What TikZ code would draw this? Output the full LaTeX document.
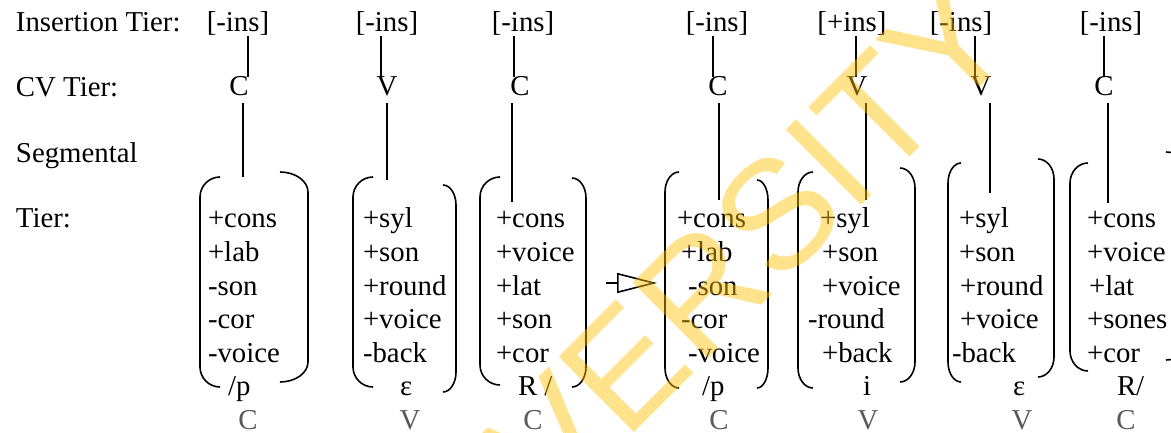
\documentclass[tikz,border=0pt]{standalone}
\usepackage{fontspec}
\setmainfont{Liberation Serif}
\newfontfamily\wmfont{Liberation Sans}
\usetikzlibrary{arrows.meta}
\definecolor{lblgray}{RGB}{89,89,89}
\definecolor{wmyellow}{RGB}{255,192,0}
\tikzset{
  txt/.style={inner sep=0pt, outer sep=0pt, font=\fontsize{28.8}{33}\selectfont, anchor=base west},
  ctxt/.style={txt, anchor=base},
  cvlbl/.style={ctxt, text=lblgray},
  link/.style={line width=1.6pt},
  brk/.style={line width=1.6pt},
}
% left bracket: x, hook x, top, bottom
\newcommand\mylbrk[4]{%
  \draw[brk] (#2,#3) .. controls ({#2-0.55*(#2-#1)},#3) and (#1,{#3+9}) .. (#1,{#3+20})
    -- (#1,{#4-20}) .. controls (#1,{#4-9}) and ({#2-0.55*(#2-#1)},#4) .. (#2,#4);}
\newcommand\myrbrk[4]{%
  \draw[brk] (#2,#3) .. controls ({#2+0.55*(#1-#2)},#3) and (#1,{#3+9}) .. (#1,{#3+20})
    -- (#1,{#4-20}) .. controls (#1,{#4-9}) and ({#2+0.55*(#1-#2)},#4) .. (#2,#4);}
\newcommand\featnode[4]{\node[txt] (#1) at (#2,#3) {#4};}
\begin{document}
\begin{tikzpicture}[x=1pt,y=-1pt]
\useasboundingbox (0,0) rectangle (1171,433);
\clip (0,0) rectangle (1171,433);
\fill[white] (0,0) rectangle (1171,433);

% row labels
\node[txt] (lins) at (16,32) {Insertion Tier:};
\node[txt] (lcv) at (16,97) {CV Tier:};
\node[txt] (lseg) at (16,163) {Segmental};
\node[txt] (ltier) at (16,228) {Tier:};

% insertion tier
\node[ctxt] (ins1) at (238,32) {[-ins]};
\node[ctxt] (ins2) at (387,32) {[-ins]};
\node[ctxt] (ins3) at (523,32) {[-ins]};
\node[ctxt] (ins4) at (717,32) {[-ins]};
\node[ctxt] (ins5) at (852,32) {[+ins]};
\node[ctxt] (ins6) at (961,32) {[-ins]};
\node[ctxt] (ins7) at (1111,32) {[-ins]};

% CV tier
\node[ctxt] (cv1) at (239,96) {C};
\node[ctxt] (cv2) at (387,96) {V};
\node[ctxt] (cv3) at (520,96) {C};
\node[ctxt] (cv4) at (718,96) {C};
\node[ctxt] (cv5) at (857,96) {V};
\node[ctxt] (cv6) at (981,96) {V};
\node[ctxt] (cv7) at (1104,96) {C};

% association lines insertion -> CV
\foreach \i/\x in {1/248,2/381,3/514,4/713,5/856,6/975,7/1104}{
  \coordinate (a\i) at (\x,0);
  \draw[link] (a\i |- ins\i.south) -- (a\i |- cv\i.north);
}
% association lines CV -> segmental
\foreach \i/\x/\y in {1/243/177,2/387/180,3/512/202,4/719/200,5/866/200,6/990/193,7/1108/203}{
  \coordinate (b\i) at (\x,\y);
  \draw[link,shorten <=7pt] (b\i |- cv\i.south) -- (b\i);
}

% feature rows
\def\ra{228}\def\rb{261.6}\def\rc{295.2}\def\rd{328.8}\def\re{362.4}
% column 1
\featnode{f1a}{208}{\ra}{+cons}
\featnode{f1b}{208}{\rb}{+lab}
\featnode{f1c}{208}{\rc}{-son}
\featnode{f1d}{208}{\rd}{-cor}
\featnode{f1e}{208}{\re}{-voice}
% column 2
\featnode{f2a}{363}{\ra}{+syl}
\featnode{f2b}{363}{\rb}{+son}
\featnode{f2c}{363}{\rc}{+round}
\featnode{f2d}{363}{\rd}{+voice}
\featnode{f2e}{363}{\re}{-back}
% column 3
\featnode{f3a}{496}{\ra}{+cons}
\featnode{f3b}{496}{\rb}{+voice}
\featnode{f3c}{496}{\rc}{+lat}
\featnode{f3d}{496}{\rd}{+son}
\featnode{f3e}{496}{\re}{+cor}
% column 4
\featnode{f4a}{677}{\ra}{+cons}
\featnode{f4b}{681}{\rb}{+lab}
\featnode{f4c}{688}{\rc}{-son}
\featnode{f4d}{681}{\rd}{-cor}
\featnode{f4e}{688}{\re}{-voice}
% column 5
\featnode{f5a}{820}{\ra}{+syl}
\featnode{f5b}{822}{\rb}{+son}
\featnode{f5c}{822}{\rc}{+voice}
\featnode{f5d}{808}{\rd}{-round}
\featnode{f5e}{822}{\re}{+back}
% column 6
\featnode{f6a}{959}{\ra}{+syl}
\featnode{f6b}{959}{\rb}{+son}
\featnode{f6c}{960}{\rc}{+round}
\featnode{f6d}{960}{\rd}{+voice}
\featnode{f6e}{952}{\re}{-back}
% column 7
\featnode{f7a}{1087}{\ra}{+cons}
\featnode{f7b}{1087}{\rb}{+voice}
\featnode{f7c}{1089}{\rc}{+lat}
\featnode{f7d}{1087}{\rd}{+sones}
\featnode{f7e}{1087}{\re}{+cor}

% segment labels
\node[txt] (s1) at (228,395) {/p};
\node[txt] (s2) at (400,395) {ε};
\node[txt] (s3) at (518,395) {R /};
\node[txt] (s4) at (702,395) {/p};
\node[txt] (s5) at (863,395) {i};
\node[txt] (s6) at (1013,395) {ε};
\node[txt] (s7) at (1117,395) {R/};

% CV labels under segments
\node[cvlbl] (g1) at (248,429) {C};
\node[cvlbl] (g2) at (410,429) {V};
\node[cvlbl] (g3) at (533,429) {C};
\node[cvlbl] (g4) at (719,429) {C};
\node[cvlbl] (g5) at (868,429) {V};
\node[cvlbl] (g6) at (1022,429) {V};
\node[cvlbl] (g7) at (1126,429) {C};

% brackets
\mylbrk{200}{220}{177}{387}  \myrbrk{308}{280}{172}{382}
\mylbrk{353}{373}{177}{387}  \myrbrk{456}{443}{185}{392}
\mylbrk{480}{500}{177}{385}  \myrbrk{586}{572}{178}{387}
\mylbrk{665}{679}{172}{388}  \myrbrk{768}{757}{180}{388}
\mylbrk{798}{813}{172}{388}  \myrbrk{915}{900}{168}{382}
\mylbrk{948}{961}{163}{382}  \myrbrk{1054}{1038}{159}{377}
\mylbrk{1070}{1088}{163}{371} \myrbrk{1190}{1166}{152}{360}

% rewrite arrow
\coordinate (arrS) at (606,283);
\coordinate (arrE) at (657,283);
\draw[link,-{Triangle[open,length=40pt,width=20pt]}] (arrS) -- (arrE);

% watermark
\node[rotate=45, inner sep=0pt, anchor=base east, text=wmyellow, opacity=0.45,
      font=\wmfont\fontsize{155}{155}\selectfont] (wm) at (1022,45) {UNIVERSITY};
\end{tikzpicture}
\end{document}
